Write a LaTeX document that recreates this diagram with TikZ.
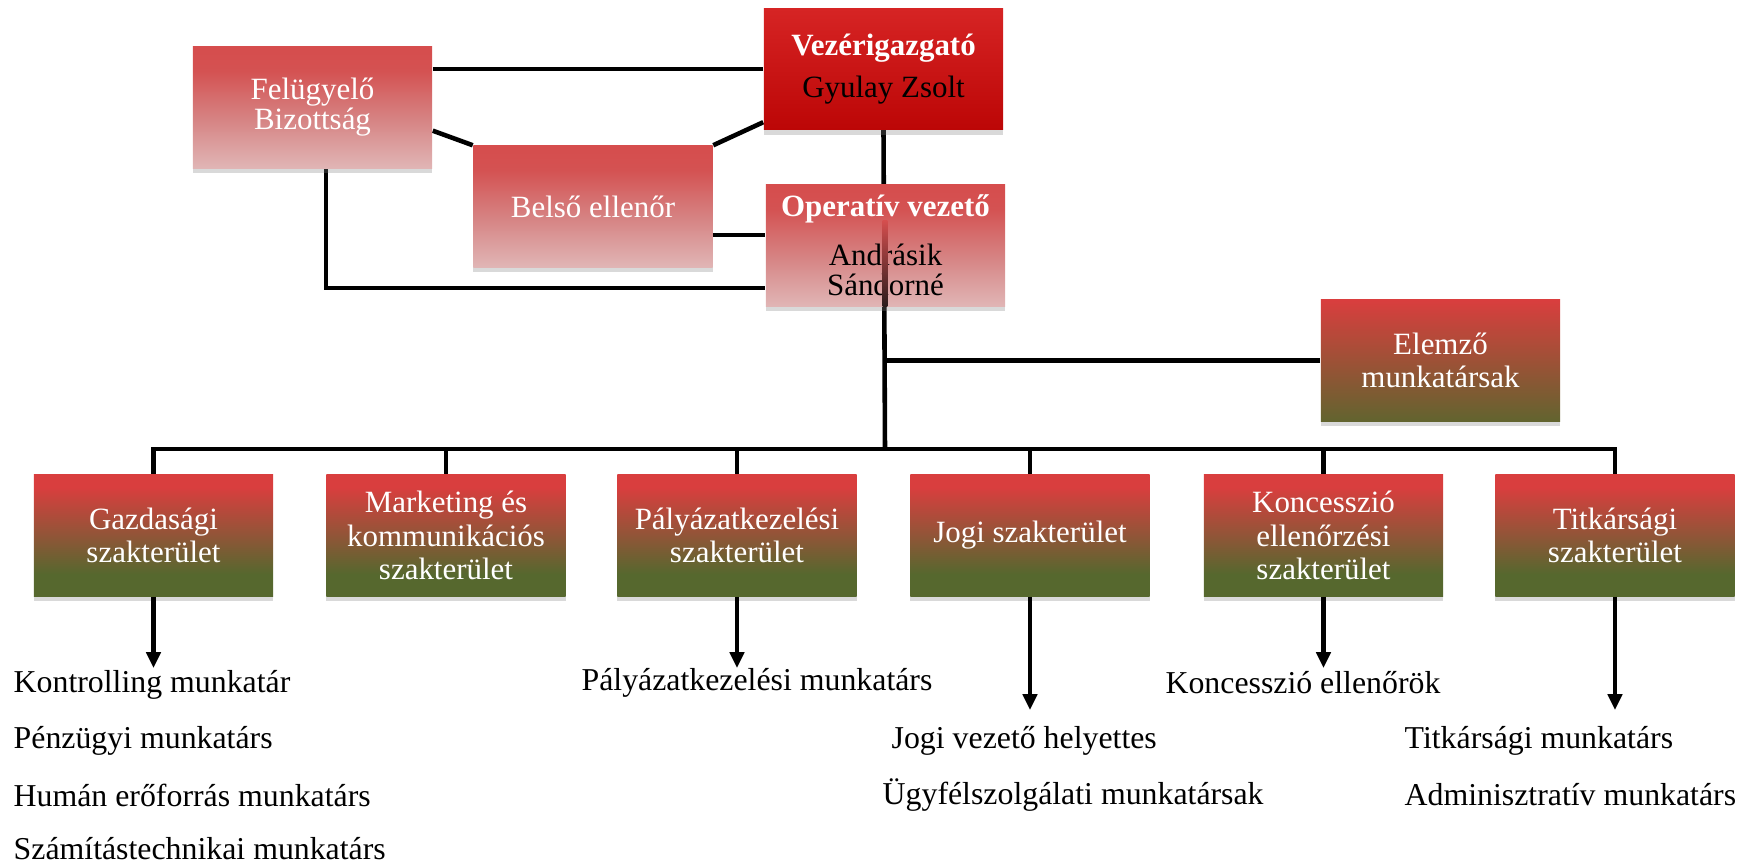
\documentclass[tikz,border=0pt]{standalone}
\usepackage{fontspec}
\setmainfont{Liberation Serif}
\usetikzlibrary{arrows.meta,shadows,backgrounds}

\definecolor{boxred}{RGB}{217,62,62}
\definecolor{chiefred}{RGB}{214,36,36}
\definecolor{chiefdark}{RGB}{188,6,6}
\definecolor{fieldgreen}{RGB}{86,104,46}
\definecolor{fieldbrown}{RGB}{148,84,56}
\definecolor{analystgreen}{RGB}{98,100,47}
\definecolor{analystmid}{RGB}{170,78,58}
\definecolor{paletop}{RGB}{218,64,64}
\definecolor{paleupper}{RGB}{212,82,82}
\definecolor{palemid}{RGB}{214,132,132}
\definecolor{palelow}{RGB}{227,193,193}
\definecolor{palebot}{RGB}{235,223,223}
\definecolor{seethrough}{RGB}{213,78,78}
\definecolor{linedark}{RGB}{42,28,28}

\pgfdeclareverticalshading{redgreen}{100bp}{color(0bp)=(fieldgreen); color(34bp)=(fieldgreen); color(51bp)=(fieldbrown); color(70bp)=(boxred); color(100bp)=(boxred)}
\pgfdeclareverticalshading{redpale}{100bp}{color(0bp)=(palebot); color(20bp)=(palelow); color(45bp)=(palemid); color(65bp)=(paleupper); color(100bp)=(paletop)}

\tikzset{
  unit/.style={minimum width=2.39cm, minimum height=1.21cm, align=center, inner sep=1pt,
    text=white, font=\fontsize{8.8}{8.5}\selectfont},
  boxshadow/.style={drop shadow={shadow xshift=0pt, shadow yshift=-1.5pt, opacity=0.3}},
  palebox/.style={unit, shading=redpale, boxshadow},
  chiefbox/.style={unit, top color=chiefred, bottom color=chiefdark, boxshadow},
  fieldbox/.style={unit, shading=redgreen, boxshadow, font=\fontsize{8.8}{9.6}\selectfont},
  analystbox/.style={unit, top color=boxred, middle color=analystmid, bottom color=analystgreen,
    boxshadow, font=\fontsize{8.8}{9.6}\selectfont},
  staff/.style={inner sep=0pt, font=\fontsize{9.05}{11}\selectfont},
  link/.style={line width=1.3pt},
  pointer/.style={link, -{Triangle[width=4pt,length=4.5pt]}}
}

\begin{document}
\begin{tikzpicture}[x=0.01cm, y=-0.01cm]
\useasboundingbox (0,0) rectangle (1756,865);
% Nodes
\node[palebox] (felugyelo) at (312.5,107.5) {Felügyelő\\Bizottság};
\node[chiefbox] (vezer) at (883.5,69) {\textbf{Vezérigazgató}\\[3.5pt]\textcolor{black}{Gyulay Zsolt}};
\node[palebox] (belso) at (593,206.5) {Belső ellenőr};
\node[palebox] (operativ) at (885.5,245.5) {\textbf{Operatív vezető}\\[5.5pt]\textcolor{black}{Andrásik}\\\textcolor{black}{Sándorné}};
\node[analystbox] (elemzo) at (1440.5,360.5) {Elemző\\munkatársak};
\node[fieldbox] (gazd) at (153.5,535.5) {Gazdasági\\szakterület};
\node[fieldbox] (mark) at (446,535.5) {Marketing és\\kommunikációs\\szakterület};
\node[fieldbox] (paly) at (737,535.5) {Pályázatkezelési\\szakterület};
\node[fieldbox] (jogi) at (1030,535.5) {Jogi szakterület};
\node[fieldbox] (konc) at (1323.5,535.5) {Koncesszió\\ellenőrzési\\szakterület};
\node[fieldbox] (titk) at (1615,535.5) {Titkársági\\szakterület};
\coordinate (bus) at (885,449);
% Staff
\node[staff, anchor=west] (gazd1) at (13,685) {Kontrolling munkatár};
\node[staff, anchor=west] (gazd2) at (13,741) {Pénzügyi munkatárs};
\node[staff, anchor=west] (gazd3) at (13,795) {Humán erőforrás munkatárs};
\node[staff, anchor=west] (gazd4) at (13,849) {Számítástechnikai munkatárs};
\node[staff] (paly1) at (757,683) {Pályázatkezelési munkatárs};
\node[staff] (konc1) at (1303,683) {Koncesszió ellenőrök};
\node[staff, anchor=west] (jogi1) at (891,741) {Jogi vezető helyettes};
\node[staff, anchor=west] (jogi2) at (882,795) {Ügyfélszolgálati munkatársak};
\node[staff, anchor=west] (titk1) at (1404,741) {Titkársági munkatárs};
\node[staff, anchor=west] (titk2) at (1404,795) {Adminisztratív munkatárs};
% Lines
\begin{scope}[on background layer]
\draw[link] (vezer.west) -- (vezer.west -| felugyelo.east);
\draw[link] ([yshift=3.8mm]felugyelo.south east) -- (belso.north west);
\draw[link] ([yshift=0.8mm]vezer.south west) -- (belso.north east);
\draw[link] ([yshift=-2.85mm]belso.east) -- ([yshift=-2.85mm]belso.east -| operativ.west);
\draw[link] ([xshift=1.35mm]felugyelo.south) |- ([yshift=-4.25mm]operativ.west);
\draw[link] (vezer.south) -- (bus);
\draw[link] (elemzo.west) -- (elemzo.west -| bus);
\foreach \dept in {gazd,mark,paly,jogi,konc,titk}
  \draw[link] (\dept.north) |- (bus);
\end{scope}
% line seen through the lower part of the box
\shade[top color=seethrough, bottom color=linedark]
  ([xshift=-0.65pt,yshift=2.5mm]bus |- operativ.center) rectangle ([xshift=0.65pt]bus |- operativ.south);
\foreach \dept/\tip in {gazd/668,paly/668,jogi/710,konc/668,titk/710}
  \draw[pointer] (\dept.south) -- (\dept.south |- 0,\tip);
\end{tikzpicture}
\end{document}
